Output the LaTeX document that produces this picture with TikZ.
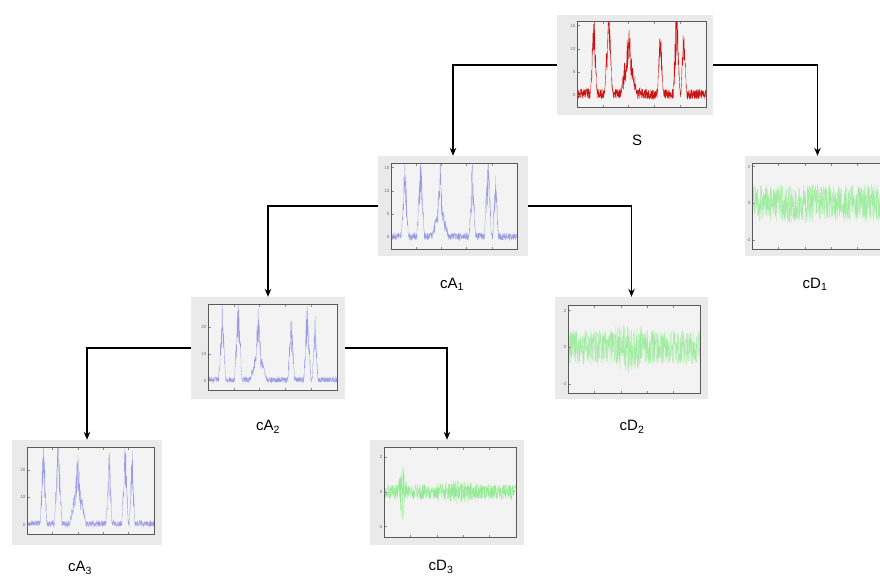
\documentclass[tikz,border=0pt]{standalone}
\usepackage{fontspec}
\setmainfont{Liberation Sans}
\usetikzlibrary{arrows.meta}
\definecolor{sred}{RGB}{205,20,20}
\definecolor{ablue}{RGB}{140,140,228}
\definecolor{dgreen}{RGB}{110,232,110}
\definecolor{figbg}{RGB}{234,234,234}
\definecolor{axbg}{RGB}{243,243,243}

% #1 left, #2 top, #3 right, #4 bottom, #5 vmin, #6 vmax, #7 style, #8 expression in \t
\newcommand\drawsig[8]{%
  \begin{scope}
    \clip (#1,#2) rectangle (#3,#4);
    \draw[#7] plot[domain=0:1, samples=700, variable=\t]
      ({#1+(#3-#1)*\t},{#4-(#4-#2)*((#8)-(#5))/((#6)-(#5))});
  \end{scope}}
% #1 left, #2 top, #3 bottom, #4 vmin, #5 vmax, #6 values, #7 name prefix
\newcommand\yticks[7]{%
  \foreach \v in {#6}{%
    \pgfmathsetmacro\yy{#3-(#3-#2)*(\v-(#4))/((#5)-(#4))}
    \draw[axtick] (#1,\yy) -- (#1+2.5,\yy);
    \node[ticklab] (#7\v) at (#1-1,\yy) {\v};
  }}
% #1 left, #2 top, #3 right, #4 bottom
\newcommand\axframe[4]{%
  \fill[axbg] (#1,#2) rectangle (#3,#4);}
\newcommand\axborder[4]{%
  \foreach \f in {0.2,0.4,0.6,0.8}{%
    \draw[axtick] ({#1+(#3-#1)*\f},#2) -- ++(0,2.5);
    \draw[axtick] ({#1+(#3-#1)*\f},#4) -- ++(0,-2.5);
  }
  \draw[frm] (#1,#2) rectangle (#3,#4);}

\begin{document}
\begin{tikzpicture}[x=1pt, y=-1pt,
  pbox/.style={rectangle, fill=figbg, draw=none, inner sep=0pt},
  frm/.style={draw=black!65, line width=0.8pt},
  axtick/.style={draw=black!45, line width=0.4pt},
  conn/.style={draw=black, line width=1.3pt, -{Stealth[length=8pt,width=6.5pt]}},
  lab/.style={font=\fontsize{15}{15}\selectfont, inner sep=0pt},
  ticklab/.style={font=\fontsize{4.5}{4.5}\selectfont, text=black!55, inner sep=0.5pt, anchor=east},
  declare function={
    tri(\s,\c,\w)=max(0,1-abs(\s-\c)/\w);
    sigS(\s)=14*tri(\s,0.13,0.026)+16*tri(\s,0.245,0.03)+8*tri(\s,0.40,0.065)+4*tri(\s,0.40,0.02)
      +12.5*tri(\s,0.646,0.024)+15.5*tri(\s,0.772,0.026)+12.5*tri(\s,0.827,0.022);
    sigA(\s)=13*tri(\s,0.11,0.028)+14.5*tri(\s,0.235,0.03)+6*tri(\s,0.39,0.065)+8*tri(\s,0.39,0.02)
      +12*tri(\s,0.645,0.026)+14.5*tri(\s,0.77,0.028)+11*tri(\s,0.83,0.022);
  }]
\useasboundingbox (0,0) rectangle (880,587);
\fill[white] (0,0) rectangle (880,587);

% ---------- plot boxes (figure backgrounds) ----------
\node[pbox, minimum width=156pt, minimum height=100pt] (S)   at (635,65)    {};
\node[pbox, minimum width=150pt, minimum height=100pt] (cA1) at (453,206)   {};
\node[pbox, minimum width=145pt, minimum height=100pt] (cD1) at (817.5,206) {};
\node[pbox, minimum width=154pt, minimum height=102pt] (cA2) at (268,348)   {};
\node[pbox, minimum width=153pt, minimum height=102pt] (cD2) at (631.5,348) {};
\node[pbox, minimum width=150pt, minimum height=105pt] (cA3) at (87,492.5)  {};
\node[pbox, minimum width=154pt, minimum height=105pt] (cD3) at (447,492.5) {};

% ---------- S ----------
\axframe{577}{21}{706}{107}
\pgfmathsetseed{17}
\drawsig{577}{21}{706}{107}{-2.5}{16}{sred, line width=0.4pt}{sigS(\t)*(1+0.45*rand)+0.3+1.1*rand}
\yticks{577}{21}{107}{-2.5}{16}{0,5,10,15}{tS}
\axborder{577}{21}{706}{107}

% ---------- cA1 ----------
\axframe{391}{163}{517}{249}
\pgfmathsetseed{23}
\drawsig{391}{163}{517}{249}{-2.5}{16}{ablue, line width=0.3pt, opacity=0.85}{sigA(\t)*(1+0.4*rand)+0.2+0.8*rand}
\yticks{391}{163}{249}{-2.5}{16}{0,5,10,15}{tA}
\axborder{391}{163}{517}{249}

% ---------- cD1 ----------
\axframe{752}{163}{884}{249}
\pgfmathsetseed{31}
\drawsig{752}{163}{884}{249}{-2.5}{2.2}{dgreen, line width=0.3pt, opacity=0.6}{1.05*rand}
\yticks{752}{163}{249}{-2.5}{2.2}{-2,0,2}{tDa}
\axborder{752}{163}{884}{249}

% ---------- cA2 ----------
\axframe{208}{304}{337}{390}
\pgfmathsetseed{41}
\drawsig{208}{304}{337}{390}{-3.5}{28.5}{ablue, line width=0.3pt, opacity=0.85}{1.65*sigA(\t)*(1+0.4*rand)+0.3+1.0*rand}
\yticks{208}{304}{390}{-3.5}{28.5}{0,10,20}{tB}
\axborder{208}{304}{337}{390}

% ---------- cD2 ----------
\axframe{568}{305}{700}{393}
\pgfmathsetseed{53}
\drawsig{568}{305}{700}{393}{-2.5}{2.3}{dgreen, line width=0.3pt, opacity=0.6}{(0.95+0.5*tri(\t,0.45,0.15))*rand}
\yticks{568}{305}{393}{-2.5}{2.3}{-2,0,2}{tDb}
\axborder{568}{305}{700}{393}

% ---------- cA3 ----------
\axframe{27}{447}{154}{534}
\pgfmathsetseed{61}
\drawsig{27}{447}{154}{534}{-3.5}{28.5}{ablue, line width=0.3pt, opacity=0.85}{1.7*sigS(\t)*(1+0.4*rand)+0.3+1.1*rand}
\yticks{27}{447}{534}{-3.5}{28.5}{0,10,20}{tC}
\axborder{27}{447}{154}{534}

% ---------- cD3 ----------
\axframe{384}{447}{516}{537}
\pgfmathsetseed{71}
\drawsig{384}{447}{516}{537}{-2.6}{2.6}{dgreen, line width=0.3pt, opacity=0.7}{(0.45+1.6*tri(\t,0.14,0.035)+0.25*tri(\t,0.55,0.2))*rand}
\yticks{384}{447}{537}{-2.6}{2.6}{-2,0,2}{tDc}
\axborder{384}{447}{516}{537}

% ---------- connectors ----------
\draw[conn] (S.west)   -| (cA1.north);
\draw[conn] (S.east)   -| (cD1.north);
\draw[conn] (cA1.west) -| (cA2.north);
\draw[conn] (cA1.east) -| (cD2.north);
\draw[conn] (cA2.west) -| (cA3.north);
\draw[conn] (cA2.east) -| (cD3.north);

% ---------- labels ----------
\node[lab] (lS)   at (637,140) {S};
\node[lab] (lA1)  at (452,284) {cA\textsubscript{1}};
\node[lab] (lD1)  at (815,284) {cD\textsubscript{1}};
\node[lab] (lA2)  at (268,427) {cA\textsubscript{2}};
\node[lab] (lD2)  at (632,427) {cD\textsubscript{2}};
\node[lab] (lA3)  at (80,568)  {cA\textsubscript{3}};
\node[lab] (lD3)  at (441,567) {cD\textsubscript{3}};
\end{tikzpicture}
\end{document}
